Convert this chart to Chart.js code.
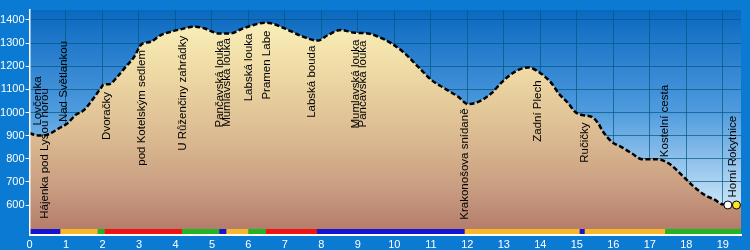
<!DOCTYPE html>
<html><head><meta charset="utf-8">
<script src="https://cdn.jsdelivr.net/npm/chart.js@4"></script>
<style>html,body{margin:0;padding:0;background:#0b7ad2;}#wrap{width:750px;height:250px;}</style>
</head><body><div id="wrap"><canvas id="c" width="750" height="250"></canvas></div>
<script>
// ---- data ----
const profileKm   = [0.00,0.15,0.30,0.53,0.80,1.04,1.26,1.49,1.72,1.95,2.04,2.18,2.41,2.64,2.87,3.07,3.32,3.60,3.90,4.15,4.51,4.79,5.00,5.16,5.52,5.80,6.07,6.44,6.62,6.99,7.45,7.90,8.18,8.54,8.91,9.28,9.55,9.92,10.28,10.65,11.02,11.38,11.75,12.02,12.30,12.66,12.94,13.30,13.67,13.95,14.31,14.50,14.77,14.95,15.14,15.41,15.60,15.69,15.96,16.24,16.51,16.79,17.20,17.52,17.88,18.16,18.52,18.80,18.98,19.21,19.50];
const profileElev = [911,903,900,906,931,953,989,1010,1054,1104,1122,1122,1155,1198,1241,1295,1306,1335,1350,1360,1371,1364,1350,1342,1342,1360,1375,1388,1386,1364,1331,1311,1335,1357,1345,1342,1328,1299,1256,1198,1140,1104,1068,1036,1046,1083,1130,1176,1195,1176,1126,1083,1039,1003,989,981,950,924,873,849,823,798,798,780,729,686,642,621,603,600,600];
const xTicks = [0,1,2,3,4,5,6,7,8,9,10,11,12,13,14,15,16,17,18,19];
const yTicks = [600,700,800,900,1000,1100,1200,1300,1400];
const trackKm     = [0,0.85,1.87,2.06,4.18,5.2,5.4,6.0,6.48,7.88,11.93,15.08,15.22,17.42,19.5];
const trackColors = ['#1414d2','#f9b72c','#22b422','#ee1414','#22b422','#1414d2','#f9b72c','#22b422','#ee1414','#1414d2','#f9b72c','#1414d2','#f9b72c','#22b422'];
const waypointNames = ['Lovčenka','Hájenka pod Lysou horou','Nad Světlankou','Dvoračky','pod Kotelským sedlem','U Růženčiny zahrádky','Pančavská louka','Mumlavská louka','Labská louka','Pramen Labe','Labská bouda','Mumlavská louka','Pančavská louka','Krakonošova snídaně','Zadní Plech','Ručičky','Kostelní cesta','Horní Rokytnice'];
const waypointKm    = [0.23,0.41,0.93,2.12,3.07,4.21,5.22,5.41,6.00,6.50,7.73,8.95,9.13,11.93,13.94,15.22,17.41,19.27];
const waypointLabelElev = [1050,823,1134,985,1020,1083,1123,1130,1195,1205,1133,1123,1123,777,1006,870,963,809];
const endKm = [19.14,19.375];
const endElev = [600,600];
const endColors = ['#ffffff','#ffe422'];

// ---- styling ----
const TRACK_LEVEL = 485;
const Y_MIN = 470.3, Y_MAX = 1443.2, X_MAX = 19.5;
const OUTER = '#0b7ad2';
const FONT = '"Liberation Sans", Arial, sans-serif';

const bgPlugin = {
  id:'bg',
  beforeDraw(chart){
    const {ctx, chartArea:a} = chart;
    ctx.save();
    ctx.fillStyle = OUTER;
    ctx.fillRect(0,0,chart.width,chart.height);
    const g = ctx.createLinearGradient(0,a.top,0,a.bottom);
    g.addColorStop(0,'#0a68c0');
    g.addColorStop(0.45,'#4f9bde');
    g.addColorStop(0.85,'#c4e1f6');
    g.addColorStop(1,'#e6f2fb');
    ctx.fillStyle = g;
    ctx.fillRect(a.left,a.top,a.right-a.left,a.bottom-a.top);
    ctx.restore();
  }
};
const labelPlugin = {
  id:'wplabels',
  afterDatasetsDraw(chart){
    const {ctx} = chart, xs = chart.scales.x, ys = chart.scales.y;
    ctx.save();
    ctx.font = '11.5px ' + FONT;
    ctx.fillStyle = '#000';
    ctx.textAlign = 'center';
    ctx.textBaseline = 'middle';
    waypointNames.forEach((n,i)=>{
      ctx.save();
      ctx.translate(xs.getPixelForValue(waypointKm[i]), ys.getPixelForValue(waypointLabelElev[i]));
      ctx.rotate(-Math.PI/2);
      ctx.fillText(n,0,0);
      ctx.restore();
    });
    ctx.restore();
  }
};

function fillGradient(context){
  const ca = context.chart.chartArea;
  if(!ca) return '#dcbd92';
  const g = context.chart.ctx.createLinearGradient(0,ca.top,0,ca.bottom);
  g.addColorStop(0,'#fcf4be');
  g.addColorStop(0.25,'#f0dca6');
  g.addColorStop(0.55,'#dcbc92');
  g.addColorStop(0.8,'#c89c80');
  g.addColorStop(1,'#b27868');
  return g;
}

new Chart(document.getElementById('c'), {
  type:'line',
  data:{
    datasets:[
      {
        data: endKm.map((x,i)=>({x, y:endElev[i]})),
        showLine:false, pointRadius:4, pointHoverRadius:4,
        pointBackgroundColor:endColors, pointBorderColor:'#000', pointBorderWidth:1,
        clip:false, order:0
      },
      {
        data: trackKm.map(x=>({x, y:TRACK_LEVEL})),
        borderWidth:5, pointRadius:0, fill:false, order:1,
        borderColor:'#1414d2',
        segment:{ borderColor: c => trackColors[c.p0DataIndex] }
      },
      {
        data: profileKm.map((x,i)=>({x, y:profileElev[i]})),
        borderColor:'#000', borderWidth:2.5, borderDash:[5,2.5],
        pointRadius:0, fill:'start', backgroundColor:fillGradient,
        cubicInterpolationMode:'monotone', order:2
      }
    ]
  },
  options:{
    responsive:false, animation:false,
    layout:{padding:{top:10,right:9,left:0,bottom:0}},
    plugins:{legend:{display:false}, tooltip:{enabled:false}},
    scales:{
      x:{
        type:'linear', min:0, max:X_MAX,
        afterBuildTicks: s => { s.ticks = xTicks.map(v=>({value:v})); },
        afterFit: s => { s.height = 15; },
        grid:{color:'rgba(0,90,125,0.7)', drawTicks:false, lineWidth:1},
        border:{color:'#ffffff', width:2, z:1},
        ticks:{color:'#ffffff', font:{family:FONT, size:11}, padding:3, maxRotation:0, autoSkip:false, callback: v => String(v)}
      },
      y:{
        type:'linear', min:Y_MIN, max:Y_MAX,
        afterBuildTicks: s => { s.ticks = yTicks.map(v=>({value:v})); },
        afterFit: s => { s.width = 29.5; },
        grid:{color:'rgba(0,90,125,0.7)', tickColor:'#ffffff', tickLength:4, lineWidth:1},
        border:{color:'#ffffff', width:1.5, z:1},
        ticks:{color:'#ffffff', font:{family:FONT, size:11}, padding:1, autoSkip:false, callback: v => String(v)}
      }
    }
  },
  plugins:[bgPlugin, labelPlugin]
});
</script>
</body></html>
